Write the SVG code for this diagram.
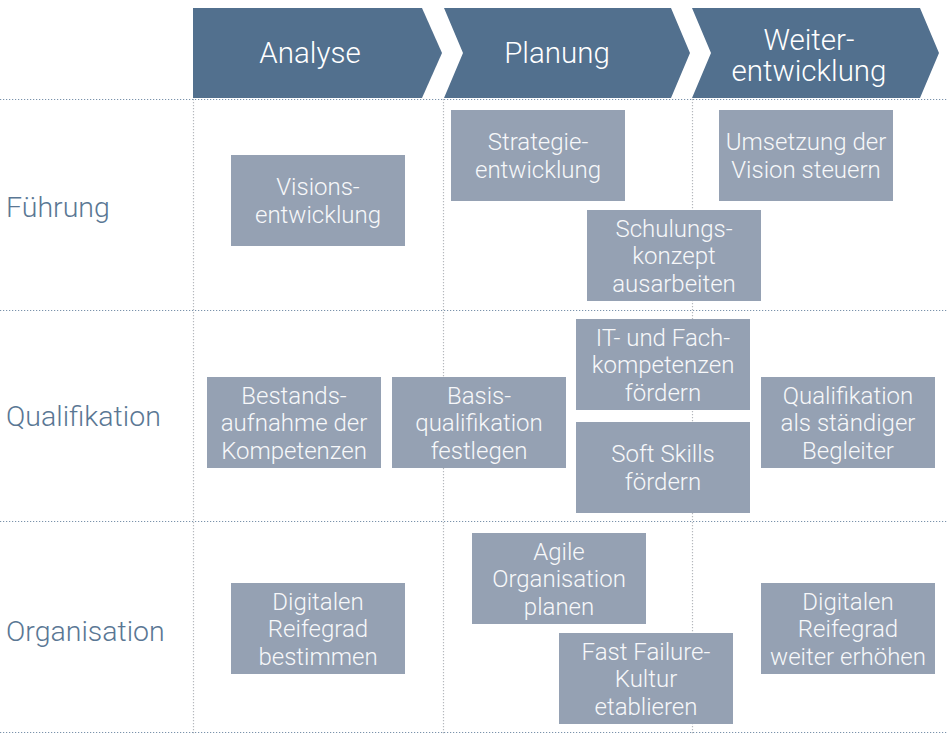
<svg xmlns="http://www.w3.org/2000/svg" width="947" height="734" viewBox="0 0 947 734">
<style>
.hdr{fill:#52708e}
.htxt{font-family:Roboto,"Liberation Sans",sans-serif;font-weight:300;font-size:29.5px;fill:#ffffff;text-anchor:middle}
.lbl{font-family:Roboto,"Liberation Sans",sans-serif;font-weight:300;font-size:28.5px;fill:#5a7794}
.box{fill:#95a1b3}
.btxt{font-family:Roboto,"Liberation Sans",sans-serif;font-weight:300;font-size:24px;fill:#f7f8fa;text-anchor:middle}
.hl{stroke:#7a92ab;stroke-width:1.2;stroke-dasharray:1.2 1.8;fill:none}
.vl{stroke:#b5b8bd;stroke-width:1.2;stroke-dasharray:1.2 1.8;fill:none}
</style>
<rect width="947" height="734" fill="#ffffff"/>
<g id="grid">
<line class="vl" x1="193.5" y1="99" x2="193.5" y2="734"/>
<line class="vl" x1="443.5" y1="99" x2="443.5" y2="734"/>
<line class="vl" x1="692.5" y1="99" x2="692.5" y2="734"/>
<line class="hl" x1="0" y1="99.5" x2="947" y2="99.5"/>
<line class="hl" x1="0" y1="310.5" x2="947" y2="310.5"/>
<line class="hl" x1="0" y1="521.5" x2="947" y2="521.5"/>
<line class="hl" x1="0" y1="732.5" x2="947" y2="732.5"/>
</g>
<g id="phase-analyse">
<polygon class="hdr" points="193,8 422,8 442,53 422,98 193,98"/>
<text class="htxt" x="310" y="63">Analyse</text>
</g>
<g id="phase-planung">
<polygon class="hdr" points="444,8 671,8 690,53 671,98 444,98 463,53"/>
<text class="htxt" x="557" y="63">Planung</text>
</g>
<g id="phase-weiterentwicklung">
<polygon class="hdr" points="692,8 920,8 939,53 920,98 692,98 711,53"/>
<text class="htxt" x="809" y="50">Weiter-</text>
<text class="htxt" x="809" y="81">entwicklung</text>
</g>
<g id="row-fuehrung"><text class="lbl" x="6" y="217">Führung</text></g>
<g id="row-qualifikation"><text class="lbl" x="6" y="426">Qualifikation</text></g>
<g id="row-organisation"><text class="lbl" x="6" y="641">Organisation</text></g>
<g id="visionsentwicklung">
<rect class="box" x="231" y="155" width="174" height="91"/>
<text class="btxt" x="318" y="195.3">Visions-</text>
<text class="btxt" x="318" y="222.8">entwicklung</text>
</g>
<g id="strategieentwicklung">
<rect class="box" x="451" y="110" width="174" height="91"/>
<text class="btxt" x="538" y="150.3">Strategie-</text>
<text class="btxt" x="538" y="177.8">entwicklung</text>
</g>
<g id="umsetzung">
<rect class="box" x="719" y="110" width="174" height="91"/>
<text class="btxt" x="806" y="150.3">Umsetzung der</text>
<text class="btxt" x="806" y="177.8">Vision steuern</text>
</g>
<g id="schulungskonzept">
<rect class="box" x="587" y="210" width="174" height="91"/>
<text class="btxt" x="674" y="236.5">Schulungs-</text>
<text class="btxt" x="674" y="264">konzept</text>
<text class="btxt" x="674" y="291.5">ausarbeiten</text>
</g>
<g id="it-fachkompetenzen">
<rect class="box" x="576" y="319" width="174" height="91"/>
<text class="btxt" x="663" y="345.5">IT- und Fach-</text>
<text class="btxt" x="663" y="373">kompetenzen</text>
<text class="btxt" x="663" y="400.5">fördern</text>
</g>
<g id="bestandsaufnahme">
<rect class="box" x="207" y="377" width="174" height="91"/>
<text class="btxt" x="294" y="403.5">Bestands-</text>
<text class="btxt" x="294" y="431">aufnahme der</text>
<text class="btxt" x="294" y="458.5">Kompetenzen</text>
</g>
<g id="basisqualifikation">
<rect class="box" x="392" y="377" width="174" height="91"/>
<text class="btxt" x="479" y="403.5">Basis-</text>
<text class="btxt" x="479" y="431">qualifikation</text>
<text class="btxt" x="479" y="458.5">festlegen</text>
</g>
<g id="qualifikation-begleiter">
<rect class="box" x="761" y="377" width="174" height="91"/>
<text class="btxt" x="848" y="403.5">Qualifikation</text>
<text class="btxt" x="848" y="431">als ständiger</text>
<text class="btxt" x="848" y="458.5">Begleiter</text>
</g>
<g id="soft-skills">
<rect class="box" x="576" y="422" width="174" height="91"/>
<text class="btxt" x="663" y="462.3">Soft Skills</text>
<text class="btxt" x="663" y="489.8">fördern</text>
</g>
<g id="agile-organisation">
<rect class="box" x="472" y="533" width="174" height="91"/>
<text class="btxt" x="559" y="559.5">Agile</text>
<text class="btxt" x="559" y="587">Organisation</text>
<text class="btxt" x="559" y="614.5">planen</text>
</g>
<g id="reifegrad-bestimmen">
<rect class="box" x="231" y="583" width="174" height="91"/>
<text class="btxt" x="318" y="609.5">Digitalen</text>
<text class="btxt" x="318" y="637">Reifegrad</text>
<text class="btxt" x="318" y="664.5">bestimmen</text>
</g>
<g id="fast-failure">
<rect class="box" x="559" y="633" width="174" height="91"/>
<text class="btxt" x="646" y="659.5">Fast Failure-</text>
<text class="btxt" x="646" y="687">Kultur</text>
<text class="btxt" x="646" y="714.5">etablieren</text>
</g>
<g id="reifegrad-erhoehen">
<rect class="box" x="761" y="583" width="174" height="91"/>
<text class="btxt" x="848" y="609.5">Digitalen</text>
<text class="btxt" x="848" y="637">Reifegrad</text>
<text class="btxt" x="848" y="664.5">weiter erhöhen</text>
</g>
<g id="connectors"></g>
</svg>
